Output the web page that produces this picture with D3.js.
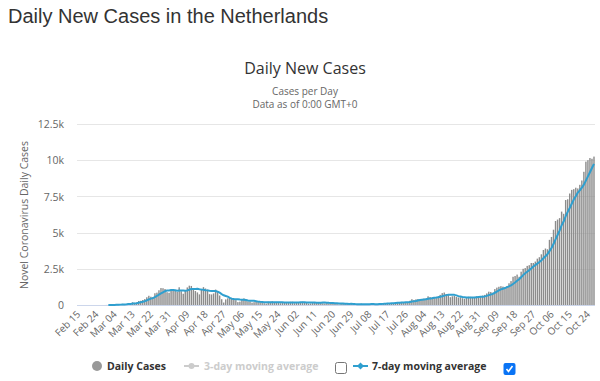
<!DOCTYPE html>
<html><head><meta charset="utf-8">
<script src="https://cdn.jsdelivr.net/npm/d3@7"></script>
<style>
body{margin:0;background:#fff;}
svg{display:block;}
</style></head><body>
<svg id="c" width="600" height="381"></svg>
<script>
// ---------- data ----------
const firstDay = "2020-02-15";
const casesFeb = [0,0,0,0,0,0,0,0,0,0,0,0,1,1,4];
const casesMar = [4,8,6,14,44,46,60,77,56,61,121,111,190,155,176,278,292,346,409,534,637,573,545,811,852,1019,1172,1159,1104,884,845];
const casesApr = [1019,1083,1026,904,1224,952,777,969,1213,1335,1316,1174,964,868,734,1061,1235,1140,1066,750,729,797,1066,887,655,400,171,386,464,514];
const casesMay = [475,445,335,199,232,386,455,319,252,245,163,196,227,232,219,201,125,99,229,218,256,181,184,153,127,183,167,167,180,219,226];
const casesJun = [126,143,197,203,228,180,167,102,111,183,184,196,178,182,124,110,146,120,155,98,121,64,41,123,96,73,76,56,80,35];
const casesJul = [37,46,58,95,59,47,58,56,56,65,71,62,104,95,100,128,140,134,114,143,192,195,209,216,199,165,186,291,401,347,389];
const casesAug = [413,357,345,439,455,600,547,523,553,480,600,700,820,860,760,700,540,600,620,560,520,540,470,430,510,570,560,550,560,600,520];
const casesSep = [580,650,700,800,920,900,850,1100,1200,1260,1300,1270,1200,1300,1500,1650,1950,2000,2100,1950,2300,2500,2550,2700,2750,2900,2900,3000,3200,3300];
const casesOct = [3500,3800,3900,3850,4500,4700,5200,5800,5900,6000,6450,6300,7250,7300,7700,7950,8000,8100,8050,8300,8600,9200,9900,10000,10150,10100,10250];

const ma7Start = "2020-03-01";
const ma7Mar = [1,3,3,5,12,18,26,36,43,51,66,76,97,110,124,156,189,221,264,313,382,438,477,551,623,710,801,876,952,1000,1005];
const ma7Apr = [1029,1038,1017,981,998,1008,998,991,1009,1053,1112,1105,1107,1120,1086,1065,1050,1025,1010,979,959,968,969,919,850,755,672,623,576,497];
const ma7May = [438,408,399,403,381,369,361,339,311,298,293,288,265,233,219,212,195,186,190,189,192,187,185,189,193,186,179,166,166,171,181];
const ma7Jun = [181,175,180,185,192,186,178,174,170,168,165,160,160,162,165,165,160,151,145,134,125,116,106,103,100,88,85,76,78,77];
const ma7Jul = [65,58,55,58,59,54,57,60,61,62,59,59,67,73,79,89,100,109,116,122,136,149,161,172,181,188,195,209,238,258,283];
const ma7Aug = [313,341,363,384,392,428,451,467,495,514,537,572,603,648,682,703,711,711,700,663,614,583,550,534,521,514,514,519,521,540,553];
const ma7Sep = [563,574,594,630,681,724,771,846,924,1004,1076,1126,1169,1233,1290,1354,1453,1553,1671,1779,1921,2064,2193,2300,2407,2521,2657,2757,2857,2964];
const ma7Oct = [3079,3229,3371,3507,3721,3936,4207,4536,4836,5136,5507,5764,6129,6429,6700,6993,7279,7514,7764,7914,8100,8314,8593,8879,9171,9464,9743];

const yTicks = [0,2500,5000,7500,10000,12500];
const yTickLabels = ["0","2.5k","5k","7.5k","10k","12.5k"];
const xTickLabels = ["Feb 15","Feb 24","Mar 04","Mar 13","Mar 22","Mar 31","Apr 09","Apr 18","Apr 27","May 06","May 15","May 24","Jun 02","Jun 11","Jun 20","Jun 29","Jul 08","Jul 17","Jul 26","Aug 04","Aug 13","Aug 22","Aug 31","Sep 09","Sep 18","Sep 27","Oct 06","Oct 15","Oct 24"];

const pageTitle = "Daily New Cases in the Netherlands";
const chartTitle = "Daily New Cases";
const subtitle1 = "Cases per Day";
const subtitle2 = "Data as of 0:00 GMT+0";
const yAxisTitle = "Novel Coronavirus Daily Cases";
const legendItems = ["Daily Cases","3-day moving average","7-day moving average"];

// ---------- build ----------
const daily = [].concat(casesFeb,casesMar,casesApr,casesMay,casesJun,casesJul,casesAug,casesSep,casesOct);
const ma7 = [].concat(ma7Mar,ma7Apr,ma7May,ma7Jun,ma7Jul,ma7Aug,ma7Sep,ma7Oct);
const fmt = d3.utcFormat("%b %d");
const start = new Date(firstDay+"T00:00:00Z");
const dates = d3.utcDay.range(start, d3.utcDay.offset(start, daily.length));
const cats = dates.map(fmt);
const maStartIdx = cats.indexOf(fmt(new Date(ma7Start+"T00:00:00Z")));

const svg = d3.select("#c");
const FONT = "'Open Sans', sans-serif";
const L = 77, R = 595, T = 124, B = 305;

const x = d3.scaleBand().domain(cats).range([L,R]).paddingInner(0.3).paddingOuter(0.15);
const y = d3.scaleLinear().domain([0,12500]).range([B,T]);
const cx = c => x(c) + x.bandwidth()/2;

// titles
svg.append("text").attr("x",8).attr("y",23).text(pageTitle)
  .attr("font-family","'Liberation Sans', Arial, sans-serif").attr("font-size",20).attr("fill","#333");
svg.append("text").attr("x",305).attr("y",74).attr("text-anchor","middle").text(chartTitle)
  .attr("font-family",FONT).attr("font-size",16).attr("fill","#333");
svg.append("text").attr("x",305).attr("y",95).attr("text-anchor","middle").text(subtitle1)
  .attr("font-family",FONT).attr("font-size",10).attr("fill","#666");
svg.append("text").attr("x",305).attr("y",108).attr("text-anchor","middle").text(subtitle2)
  .attr("font-family",FONT).attr("font-size",10).attr("fill","#666");

// grid
const grid = svg.append("g");
grid.selectAll("line").data(yTicks.filter(d=>d>0)).join("line")
  .attr("x1",L).attr("x2",R).attr("y1",d=>Math.round(y(d))+0.5).attr("y2",d=>Math.round(y(d))+0.5)
  .attr("stroke","#e6e6e6").attr("stroke-width",1);

// y axis labels via axis
const yAxis = d3.axisLeft(y).tickValues(yTicks).tickFormat((d,i)=>yTickLabels[i]).tickSize(0).tickPadding(0);
const gy = svg.append("g").attr("transform",`translate(${L-13},0)`).call(yAxis);
gy.select(".domain").remove();
gy.selectAll("text").attr("font-family",FONT).attr("font-size",10.5).attr("fill","#666").attr("dy","0.35em");

// y title
svg.append("text").attr("transform","translate(28,215) rotate(-90)").attr("text-anchor","middle")
  .text(yAxisTitle).attr("font-family",FONT).attr("font-size",10.5).attr("fill","#666");

// bars
svg.append("g").selectAll("rect").data(daily).join("rect")
  .attr("x",(d,i)=>x(cats[i])).attr("width",x.bandwidth())
  .attr("y",d=>y(d)).attr("height",d=>B-y(d))
  .attr("fill","#8c8c8c");

// x axis line
svg.append("line").attr("x1",L).attr("x2",R).attr("y1",B+0.5).attr("y2",B+0.5).attr("stroke","#ccd6eb");

// MA line
const line = d3.line().x((d,i)=>cx(cats[maStartIdx+i])).y(d=>y(d));
svg.append("path").datum(ma7).attr("d",line).attr("fill","none")
  .attr("stroke","#2f9fcf").attr("stroke-width",2).attr("stroke-linejoin","round");

// x tick labels
const xg = svg.append("g");
xg.selectAll("text").data(xTickLabels).join("text")
  .attr("transform",d=>`translate(${cx(d)+3},315) rotate(-45)`)
  .attr("text-anchor","end").text(d=>d)
  .attr("font-family",FONT).attr("font-size",10).attr("fill","#666");

// legend
const lg = svg.append("g").attr("font-family",FONT).attr("font-size",10.5).attr("font-weight","bold");
lg.append("circle").attr("cx",97).attr("cy",366).attr("r",5).attr("fill","#999");
lg.append("text").attr("x",107).attr("y",370).text(legendItems[0]).attr("fill","#333");
lg.append("line").attr("x1",184).attr("x2",199).attr("y1",366).attr("y2",366).attr("stroke","#ccc").attr("stroke-width",2);
lg.append("circle").attr("cx",191.5).attr("cy",366).attr("r",3).attr("fill","#ccc");
lg.append("text").attr("x",204).attr("y",370).text(legendItems[1]).attr("fill","#ccc");
lg.append("rect").attr("x",335.5).attr("y",362.5).attr("width",11).attr("height",11).attr("rx",2)
  .attr("fill","#fff").attr("stroke","#767676");
lg.append("line").attr("x1",353).attr("x2",368).attr("y1",366).attr("y2",366).attr("stroke","#2f9fcf").attr("stroke-width",2);
lg.append("path").attr("d","M360.5,362.5 L364,366 L360.5,369.5 L357,366 Z").attr("fill","#2f9fcf");
lg.append("text").attr("x",372).attr("y",370).text(legendItems[2]).attr("fill","#333");
lg.append("rect").attr("x",503.5).attr("y",363).attr("width",12).attr("height",12).attr("rx",2).attr("fill","#0a74f5");
lg.append("path").attr("d","M506.5,369 L508.5,371.5 L512.5,366").attr("fill","none").attr("stroke","#fff").attr("stroke-width",1.6);
</script>
</body></html>
